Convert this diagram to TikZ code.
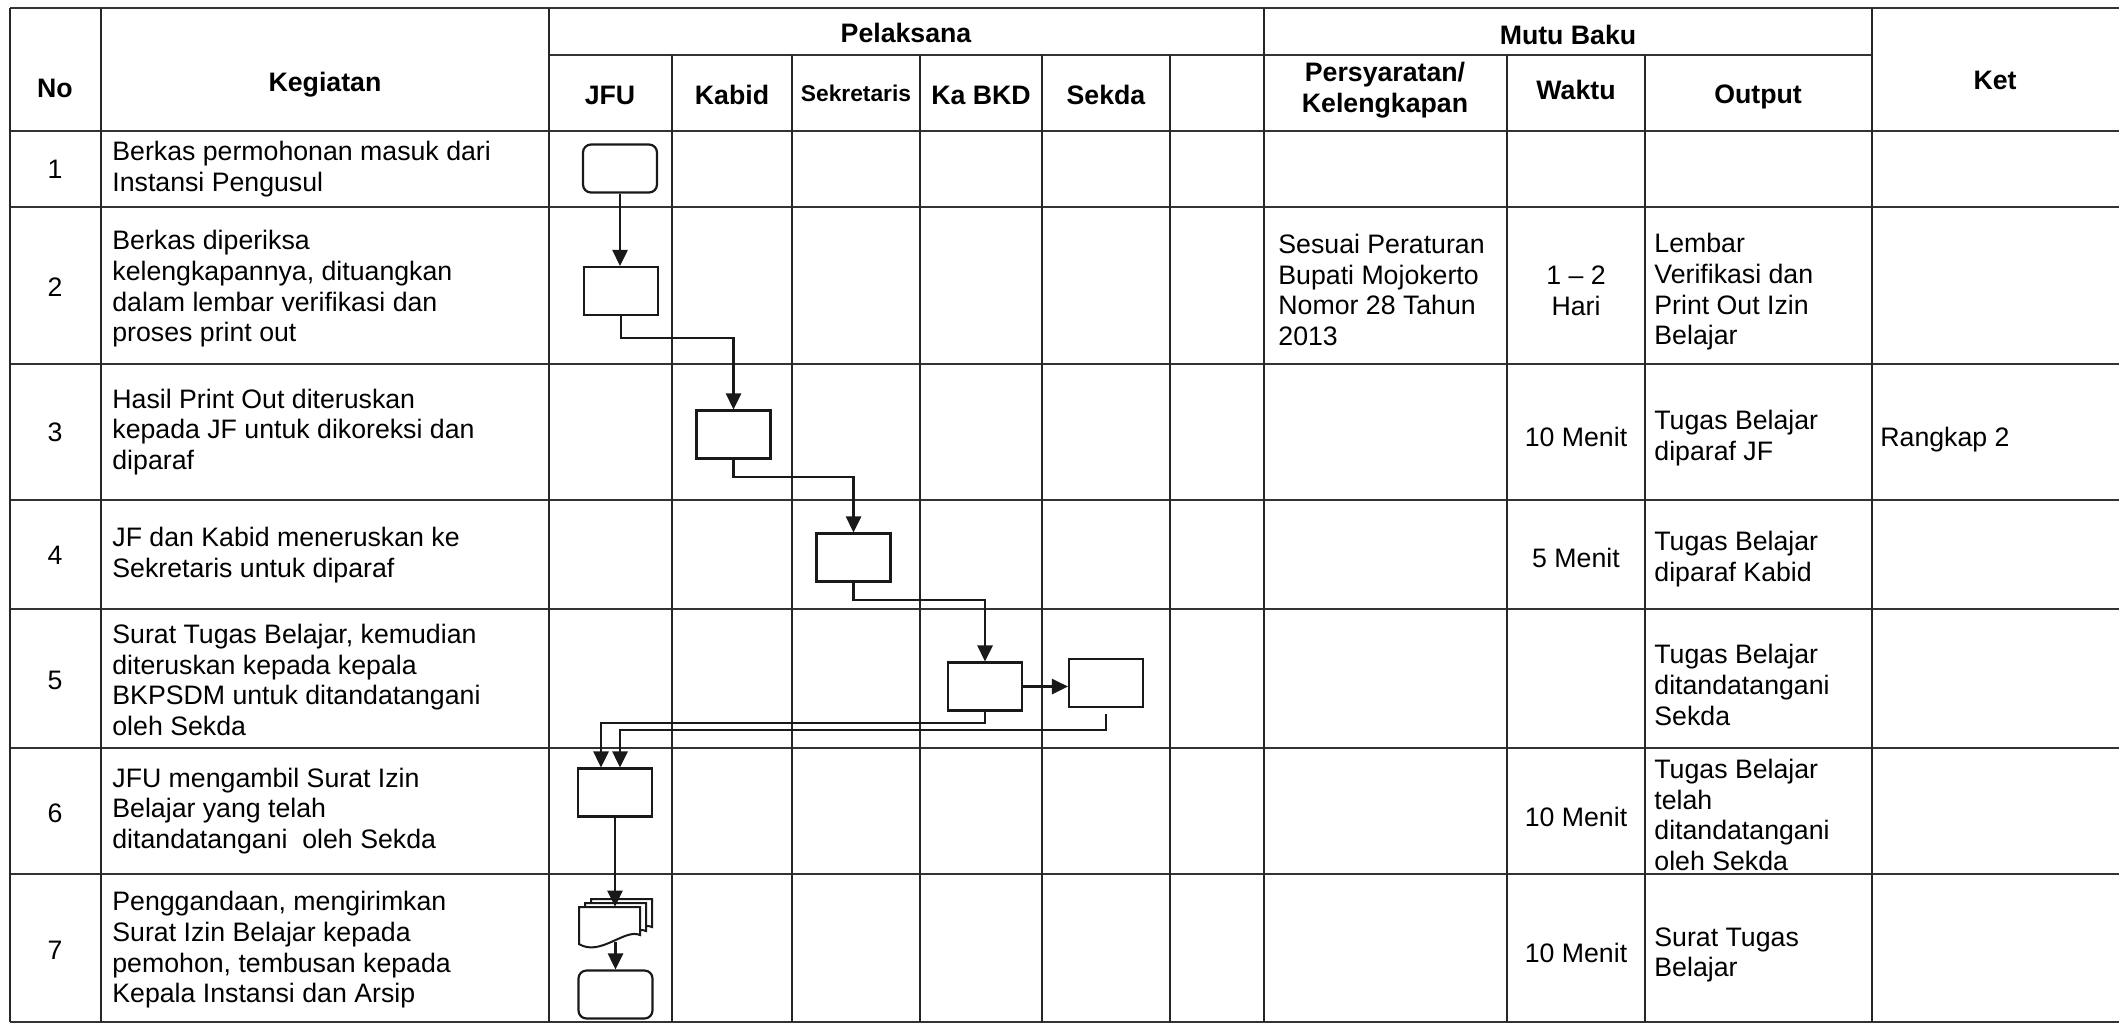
\documentclass[tikz,border=0pt]{standalone}
\usepackage{fontspec}
\setmainfont{Liberation Sans}
\usetikzlibrary{arrows.meta}
\newcommand\bodyfont{\fontsize{13.35pt}{15.35pt}\selectfont}
\newcommand\headfont{\fontsize{13.35pt}{15.35pt}\selectfont\bfseries}
\newcommand\narrowhead{\fontsize{11.4pt}{13.2pt}\selectfont\bfseries}
\begin{document}
\begin{tikzpicture}[x=0.5pt,y=-0.5pt,
  tabh/.style={line width=1.1pt, draw=black!80},
  tabv/.style={line width=0.85pt, draw=black!85},
  procbox/.style={draw=black!90, line width=1.1pt, minimum width=37pt, minimum height=24pt, inner sep=0pt, fill=white},
  termbox/.style={procbox, rounded corners=4pt},
  flowarrow/.style={draw=black!90, line width=1.1pt, -{Triangle[length=8pt,width=7.6pt]}},
  sheet/.style={draw=black!90, line width=1pt, fill=white},
  cellL/.style={inner sep=0pt, font=\bodyfont, align=left, anchor=west},
  cellC/.style={inner sep=0pt, font=\bodyfont, align=center},
  headC/.style={inner sep=0pt, font=\headfont, align=center},
]
\useasboundingbox (0,0) rectangle (2119,1025);
\fill[white] (0,0) rectangle (2119,1025);

% ---- table rules ----
\draw[tabh] (10,8) -- (2119,8);
\draw[tabh] (549,55) -- (1872,55);
\foreach \y in {131,207,364,500,609,748,874,1022} \draw[tabh] (10,\y) -- (2119,\y);
\foreach \x in {10,101,549,1264,1872} \draw[tabv] (\x,8) -- (\x,1022);
\foreach \x in {672,792,920,1042,1170,1507,1645} \draw[tabv] (\x,55) -- (\x,1022);

% ---- header ----
\node[headC] (hNo) at (55,88) {No};
\node[headC] (hKeg) at (325,85) {Kegiatan};
\node[headC] (hPel) at (906,33) {Pelaksana};
\node[headC] (hJFU) at (610,95) {JFU};
\node[headC] (hKabid) at (732,95) {Kabid};
\node[headC, font=\narrowhead] (hSek) at (856,93) {Sekretaris};
\node[headC] (hKaBKD) at (981,95) {Ka BKD};
\node[headC] (hSekda) at (1106,95) {Sekda};
\node[headC] (hMutu) at (1568,35) {Mutu Baku};
\node[headC] (hPers) at (1385,90) {Persyaratan/\\Kelengkapan};
\node[headC] (hWaktu) at (1576,90) {Waktu};
\node[headC] (hOut) at (1758,97) {Output};
\node[headC] (hKet) at (1995,80) {Ket};

% ---- row numbers ----
\foreach \n/\y in {1/169,2/287,3/432,4/555,5/680,6/813,7/950}
  \node[cellC] (no\n) at (55,\y) {\n};

% ---- activities ----
\node[cellL] (k1) at (112,169) {Berkas permohonan masuk dari\\Instansi Pengusul};
\node[cellL] (k2) at (112,289) {Berkas diperiksa\\kelengkapannya, dituangkan\\dalam lembar verifikasi dan\\proses print out};
\node[cellL] (k3) at (112,432) {Hasil Print Out diteruskan\\kepada JF untuk dikoreksi dan\\diparaf};
\node[cellL] (k4) at (112,555) {JF dan Kabid meneruskan ke\\Sekretaris untuk diparaf};
\node[cellL] (k5) at (112,680) {Surat Tugas Belajar, kemudian\\diteruskan kepada kepala\\BKPSDM untuk ditandatangani\\oleh Sekda};
\node[cellL] (k6) at (112,811) {JFU mengambil Surat Izin\\Belajar yang telah\\ditandatangani\ \ oleh Sekda};
\node[cellL] (k7) at (112,950) {Penggandaan, mengirimkan\\Surat Izin Belajar kepada\\pemohon, tembusan kepada\\Kepala Instansi dan Arsip};

% ---- requirements, time, output, remarks ----
\node[cellL] (p2) at (1278,290) {Sesuai Peraturan\\Bupati Mojokerto\\Nomor 28 Tahun\\2013};
\node[cellC] (w2) at (1576,291) {1 – 2\\Hari};
\node[cellC] (w3) at (1576,437) {10 Menit};
\node[cellC] (w4) at (1576,558) {5 Menit};
\node[cellC] (w6) at (1576,817) {10 Menit};
\node[cellC] (w7) at (1576,953) {10 Menit};
\node[cellL] (o2) at (1654,292) {Lembar\\Verifikasi dan\\Print Out Izin\\Belajar};
\node[cellL] (o3) at (1654,438) {Tugas Belajar\\diparaf JF};
\node[cellL] (o4) at (1654,559) {Tugas Belajar\\diparaf Kabid};
\node[cellL] (o5) at (1654,685) {Tugas Belajar\\ditandatangani\\Sekda};
\node[cellL] (o6) at (1654,815) {Tugas Belajar\\telah\\ditandatangani\\oleh Sekda};
\node[cellL] (o7) at (1654,955) {Surat Tugas\\Belajar};
\node[cellL] (r3) at (1880,440) {Rangkap 2};

% ---- flowchart symbols ----
\node[termbox] (b1) at (620,168.5) {};
\node[procbox] (b2) at (621,291) {};
\node[procbox] (b3) at (733.5,434.5) {};
\node[procbox] (b4) at (853.5,557.5) {};
\node[procbox] (b5a) at (985,686.5) {};
\node[procbox] (b5b) at (1106,683) {};
\node[procbox] (b6) at (615,792.5) {};
\node[inner sep=0pt, minimum width=30.5pt, minimum height=17.5pt] (doc) at (609.5,924.5) {};
\node[termbox] (b7) at (615.5,994.5) {};

% multiple-document symbol (three stacked sheets)
\foreach \dx/\dy in {12/-8, 6/-4, 0/0}
  \draw[sheet] ({579+\dx},{907+\dy}) -- ({640+\dx},{907+\dy}) -- ({640+\dx},{935+\dy})
    .. controls ({625+\dx},{928+\dy}) and ({600+\dx},{957+\dy}) .. ({579+\dx},{944+\dy}) -- cycle;

% ---- connectors ----
\draw[flowarrow] (b1.south) -- (b1.south |- b2.north);
\draw[flowarrow] (b2.south) -- ++(0,22) -| (b3.north);
\draw[flowarrow] (b3.south) -- ++(0,17) -| (b4.north);
\draw[flowarrow] (b4.south) -- ++(0,17) -| (b5a.north);
\draw[flowarrow] (b5a.east) -- (b5a.east -| b5b.west);
\draw[flowarrow] (b5a.south) -- ++(0,11) -| ([xshift=-7pt]b6.north);
\draw[flowarrow] ([yshift=-3pt]b5b.south) -- ++(0,16) -| ([xshift=2.5pt]b6.north);
\draw[flowarrow] (b6.south) -- (b6.south |- doc.north);
\draw[flowarrow] (b7.north |- doc.south) -- (b7.north);
\end{tikzpicture}
\end{document}
